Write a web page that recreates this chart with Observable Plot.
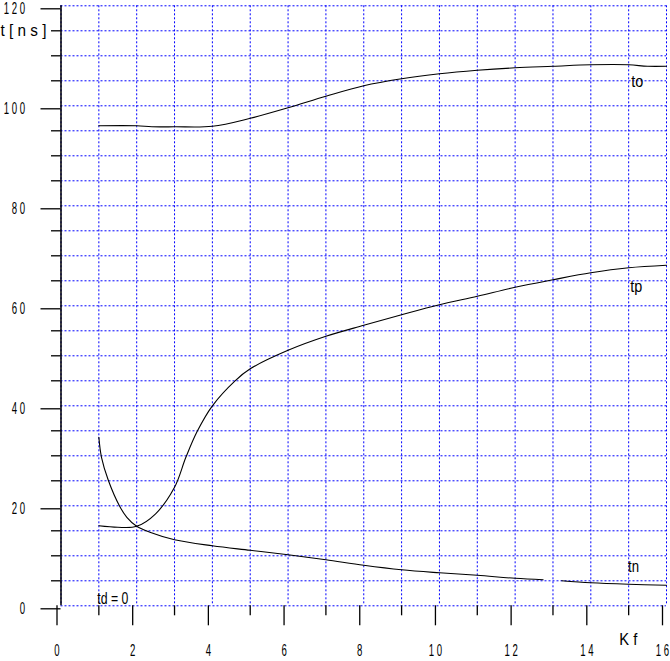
<!DOCTYPE html>
<html>
<head>
<meta charset="utf-8">
<script src="https://cdn.jsdelivr.net/npm/d3@7"></script>
<script src="https://cdn.jsdelivr.net/npm/@observablehq/plot@0.6"></script>
<style>
  html, body { margin: 0; padding: 0; background: #fff; }
</style>
</head>
<body>
<div id="chart"></div>
<script>
// ---- data ----
const toX = [1, 2, 2.4, 3, 4, 5, 6, 7, 8, 9, 10, 11, 12, 13, 14, 15, 15.5, 16];
const toY = [96.0, 96.0, 95.8, 95.8, 95.9, 97.5, 99.6, 101.9, 104.0, 105.4, 106.4, 107.1, 107.6, 107.9, 108.2, 108.2, 107.9, 107.9];

const tpX = [1, 1.5, 2, 2.5, 3, 3.3, 3.6, 4, 4.6, 5, 6, 7, 8, 9, 10, 11, 12, 13, 14, 15, 16];
const tpY = [16.0, 15.7, 15.9, 18.4, 23.7, 29.7, 34.9, 40.0, 45.0, 47.4, 51.1, 53.9, 56.1, 58.2, 60.2, 61.9, 63.7, 65.2, 66.6, 67.6, 68.1];

const tnX = [1, 1.07, 1.25, 1.55, 1.74, 2, 2.35, 3, 4, 5, 6, 7, 8, 9, 10, 11, 12, 12.74, 13.0, 13.23, 14, 15, 16];
const tnY = [33.7, 29.7, 25.1, 19.9, 17.7, 15.9, 14.7, 13.2, 12.0, 11.1, 10.2, 9.2, 8.1, 7.2, 6.6, 6.1, 5.5, 5.2, NaN, 5.0, 4.6, 4.3, 4.1];

const xMajorTicks = [0, 2, 4, 6, 8, 10, 12, 14, 16];
const xMinorTicks = [1, 3, 5, 7, 9, 11, 13, 15];
const yMajorTicks = [0, 20, 40, 60, 80, 100, 120];
const yMinorTicks = [5, 10, 15, 25, 30, 35, 45, 50, 55, 65, 70, 75, 85, 90, 95, 105, 110, 115];
const gridX = d3.range(0, 17, 1);
const gridY = d3.range(0, 121, 5);

// curve labels and axis titles (data coordinates)
const midText = ["to", "tp", "tn", "K f"];
const midX    = [15.23, 15.2, 15.13, 14.99];
const midY    = [104.7, 63.7, 7.7, -6.9];
const startText = ["td = 0", "t [ n s ]"];
const startX    = [0.96, -1.6];
const startY    = [1.4, 115];

// ---- build tables ----
const toData = toX.map((x, i) => ({x, y: toY[i]}));
const tpData = tpX.map((x, i) => ({x, y: tpY[i]}));
const tnData = tnX.map((x, i) => ({x, y: tnY[i]}));
const midNotes = midText.map((t, i) => ({t, x: midX[i], y: midY[i]}));
const startNotes = startText.map((t, i) => ({t, x: startX[i], y: startY[i]}));

const spaced = d => String(d).split("").join("\u00a0");

const lineOpts = {x: "x", y: "y", stroke: "black", strokeWidth: 1.1, curve: "catmull-rom"};

const chart = Plot.plot({
  width: 670,
  height: 661,
  marginLeft: 60.5,
  marginRight: 4,
  marginTop: 5.3,
  marginBottom: 55.7,
  x: {domain: [0, 16], label: null},
  y: {domain: [0, 120], label: null},
  style: {
    fontFamily: "'Liberation Sans', Arial, sans-serif",
    fontSize: "16px",
    color: "black",
    background: "white",
    overflow: "visible"
  },
  marks: [
    Plot.ruleX(gridX, {stroke: "#0000ff", strokeWidth: 1, strokeDasharray: "2,2"}),
    Plot.ruleY(gridY, {stroke: "#0000ff", strokeWidth: 1, strokeDasharray: "2,2"}),
    Plot.ruleX([0], {stroke: "black", strokeWidth: 1.5}),
    Plot.axisY({ticks: yMajorTicks, tickSize: 20, tickPadding: 16, tickFormat: spaced, dy: 3, label: null, strokeWidth: 1.3}),
    Plot.axisY({ticks: yMinorTicks, tickSize: 9.5, tickFormat: () => "", label: null, strokeWidth: 1.3}),
    Plot.axisX({ticks: xMajorTicks, tickSize: 20, tickPadding: 18.5, tickFormat: spaced, dx: -4, label: null, strokeWidth: 1.3}),
    Plot.axisX({ticks: xMinorTicks, tickSize: 10, tickFormat: () => "", label: null, strokeWidth: 1.3}),
    Plot.line(toData, lineOpts),
    Plot.line(tpData, lineOpts),
    Plot.line(tnData, lineOpts),
    Plot.text(midNotes, {x: "x", y: "y", text: "t", textAnchor: "middle", fill: "black"}),
    Plot.text(startNotes, {x: "x", y: "y", text: "t", textAnchor: "start", fill: "black"})
  ]
});

document.getElementById("chart").append(chart);

// condense the lettering like the reference's narrow plotter font
const targetLen = {"to": 12, "tp": 12, "tn": 11, "K f": 18, "td = 0": 31, "t [ n s ]": 46};
chart.querySelectorAll("text").forEach(el => {
  const s = el.textContent;
  if (!s) return;
  const L = el.getComputedTextLength();
  if (L > 0) {
    const target = targetLen[s] != null ? targetLen[s] : L * 0.6;
    el.setAttribute("textLength", target.toFixed(2));
    el.setAttribute("lengthAdjust", "spacingAndGlyphs");
  }
});
</script>
</body>
</html>
